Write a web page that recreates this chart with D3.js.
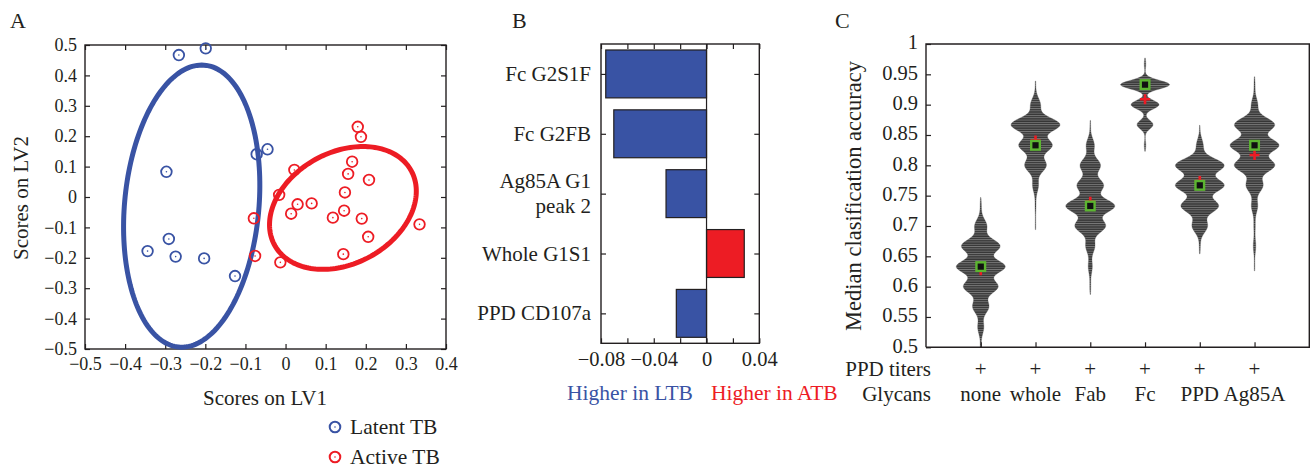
<!DOCTYPE html>
<html>
<head>
<meta charset="utf-8">
<script src="https://cdn.jsdelivr.net/npm/d3@7"></script>
<style>
  body { margin: 0; background: #fff; }
  svg text { font-family: "Liberation Serif", "DejaVu Serif", serif; fill: #231f20; }
</style>
</head>
<body>
<svg width="1313" height="469"></svg>
<script>
// ---- data ----
// panel A: PLS-DA scores
var latentLV1 = [-0.266, -0.199, -0.297, -0.072, -0.045, -0.344, -0.291, -0.274, -0.203, -0.126];
var latentLV2 = [0.467, 0.489, 0.083, 0.141, 0.157, -0.178, -0.138, -0.196, -0.202, -0.260];
var activeLV1 = [0.180, 0.188, 0.166, 0.156, 0.208, 0.022, 0.148, -0.016, 0.030, 0.065,
                 0.014, 0.146, 0.118, 0.190, 0.334, -0.079, 0.206, 0.144, -0.076, -0.013];
var activeLV2 = [0.231, 0.198, 0.116, 0.076, 0.056, 0.089, 0.015, 0.007, -0.024, -0.021,
                 -0.055, -0.045, -0.068, -0.071, -0.090, -0.070, -0.131, -0.188, -0.194, -0.215];
// confidence ellipses: centre x, centre y, x radius, x shear, y radius (data units)
var latentEllipse = [-0.234, -0.030, 0.168, 0.025, 0.464];
var activeEllipse = [0.143, -0.036, 0.176, 0.050, 0.202];

// panel B: LV1 loadings
var features = ["Fc G2S1F", "Fc G2FB", "Ag85A G1|peak 2", "Whole G1S1", "PPD CD107a"];
var loadings = [-0.0764, -0.0703, -0.0307, 0.0286, -0.0229];

// panel C: median classification accuracy distributions
var groups = ["none", "whole", "Fab", "Fc", "PPD", "Ag85A"];
var accLevels = [0.5, 0.533, 0.567, 0.6, 0.633, 0.667, 0.7, 0.733, 0.767, 0.8, 0.833, 0.867, 0.9, 0.933, 0.967];
var countsNone  = [0.5, 3, 8, 17, 24, 19, 6, 0.6, 0, 0, 0, 0, 0, 0, 0];
var countsWhole = [0, 0, 0, 0, 0, 0, 0.3, 0.5, 3, 11, 17, 25, 5, 0.3, 0];
var countsFab   = [0, 0, 0, 0.5, 2, 4.5, 15, 24, 13, 10, 4, 0.3, 0, 0, 0];
var countsFc    = [0, 0, 0, 0, 0, 0, 0, 0, 0, 0, 0.8, 8, 14, 24.5, 0.8];
var countsPPD   = [0, 0, 0, 0, 0, 0.5, 7, 17, 22, 22, 3, 0.2, 0, 0, 0];
var countsAg85A = [0, 0, 0, 0, 0.3, 1.2, 0.7, 3, 8, 19, 23, 19, 3, 0.5, 0];
var bandwidths = [0.011, 0.011, 0.011, 0.007, 0.011, 0.011];
var medians = [0.633, 0.833, 0.733, 0.933, 0.767, 0.833];
var means   = [0.627, 0.841, 0.740, 0.909, 0.774, 0.817];

var blue = "#3953a4", red = "#ed1c24", green = "#5cb531", ink = "#231f20";

var svg = d3.select("svg");
var fmt = function(d) { return d3.format(".2~f")(d); };

function styleAxis(g, size) {
  g.attr("font-family", null).attr("font-size", size);
  g.selectAll(".tick line").attr("stroke", ink).attr("stroke-width", 1.2);
  g.select(".domain").remove();
}

// ================= A =================
var xA = d3.scaleLinear([-0.5, 0.4], [85, 446]);
var yA = d3.scaleLinear([-0.5, 0.5], [349, 45]);

svg.append("text").attr("x", 10).attr("y", 28).attr("font-size", 22).text("A");

svg.append("g").attr("transform", "translate(0,349)")
    .call(d3.axisBottom(xA).ticks(10).tickSize(-5).tickPadding(8).tickFormat(fmt))
    .call(styleAxis, 18);
svg.append("g").attr("transform", "translate(0,45)")
    .call(d3.axisTop(xA).ticks(10).tickSize(-5).tickFormat(""))
    .call(styleAxis, 18);
svg.append("g").attr("transform", "translate(85,0)")
    .call(d3.axisLeft(yA).ticks(10).tickSize(-5).tickPadding(8).tickFormat(fmt))
    .call(styleAxis, 18);
svg.append("g").attr("transform", "translate(446,0)")
    .call(d3.axisRight(yA).ticks(10).tickSize(-5).tickFormat(""))
    .call(styleAxis, 18);
svg.append("rect").attr("x", 85).attr("y", 45).attr("width", 361).attr("height", 304)
    .attr("fill", "none").attr("stroke", ink).attr("stroke-width", 1.4);

svg.append("text").attr("x", 265).attr("y", 405).attr("text-anchor", "middle")
    .attr("font-size", 21).text("Scores on LV1");
svg.append("text").attr("transform", "translate(28,198) rotate(-90)").attr("text-anchor", "middle")
    .attr("font-size", 21).text("Scores on LV2");

function ellipsePath(e) {
  var pts = d3.range(0, 361, 2).map(function(deg) {
    var t = deg * Math.PI / 180;
    return [xA(e[0] + e[2] * Math.cos(t) + e[3] * Math.sin(t)), yA(e[1] + e[4] * Math.sin(t))];
  });
  return d3.line()(pts) + "Z";
}
svg.append("path").attr("d", ellipsePath(latentEllipse)).attr("fill", "none")
    .attr("stroke", blue).attr("stroke-width", 5);
svg.append("path").attr("d", ellipsePath(activeEllipse)).attr("fill", "none")
    .attr("stroke", red).attr("stroke-width", 5);

function drawPoints(xs, ys, color) {
  var g = svg.append("g").selectAll("g").data(xs).join("g")
      .attr("transform", function(d, i) { return "translate(" + xA(d) + "," + yA(ys[i]) + ")"; });
  g.append("circle").attr("r", 5.3).attr("fill", "none").attr("stroke", color).attr("stroke-width", 1.8);
  g.append("circle").attr("r", 0.8).attr("fill", color);
}
drawPoints(latentLV1, latentLV2, blue);
drawPoints(activeLV1, activeLV2, red);

// legend
[["Latent TB", blue], ["Active TB", red]].forEach(function(l, i) {
  var y = 427 + i * 30;
  svg.append("circle").attr("cx", 335).attr("cy", y).attr("r", 5.3).attr("fill", "none")
      .attr("stroke", l[1]).attr("stroke-width", 2);
  svg.append("circle").attr("cx", 335).attr("cy", y).attr("r", 0.8).attr("fill", l[1]);
  svg.append("text").attr("x", 350).attr("y", y + 7).attr("font-size", 21.5).text(l[0]);
});

// ================= B =================
var xB = d3.scaleLinear([-0.08, 0.04], [601, 759.3]);
var yB = d3.scaleBand(features, [44, 343.3]).paddingInner(0.2).paddingOuter(0.1);

svg.append("text").attr("x", 512).attr("y", 28).attr("font-size", 22).text("B");

svg.selectAll(".bar").data(features).join("rect").attr("class", "bar")
    .attr("x", function(d, i) { return xB(Math.min(0, loadings[i])); })
    .attr("width", function(d, i) { return Math.abs(xB(loadings[i]) - xB(0)); })
    .attr("y", function(d) { return yB(d); })
    .attr("height", yB.bandwidth())
    .attr("fill", function(d, i) { return loadings[i] < 0 ? blue : red; })
    .attr("stroke", ink).attr("stroke-width", 1.2);

var bFmt = function(d) { return Math.round(d * 100) % 4 === 0 ? fmt(d) : ""; };
svg.append("g").attr("transform", "translate(0,343.3)")
    .call(d3.axisBottom(xB).ticks(6).tickSize(-5).tickPadding(8).tickFormat(bFmt))
    .call(styleAxis, 20.5);
svg.append("g").attr("transform", "translate(0,44)")
    .call(d3.axisTop(xB).ticks(6).tickSize(-5).tickFormat(""))
    .call(styleAxis, 20);
var yBc = d3.scalePoint(features, [44, 343.3]).padding(0.5);
svg.append("g").attr("transform", "translate(601,0)")
    .call(d3.axisLeft(yBc).tickSize(-5).tickFormat(""))
    .call(styleAxis, 20);
svg.append("g").attr("transform", "translate(759.3,0)")
    .call(d3.axisRight(yBc).tickSize(-5).tickFormat(""))
    .call(styleAxis, 20);
svg.append("line").attr("x1", xB(0)).attr("x2", xB(0)).attr("y1", 44).attr("y2", 343.3)
    .attr("stroke", ink).attr("stroke-width", 1.2);
svg.append("rect").attr("x", 601).attr("y", 44).attr("width", 158.3).attr("height", 299.3)
    .attr("fill", "none").attr("stroke", ink).attr("stroke-width", 1.4);

features.forEach(function(f) {
  var lines = f.split("|");
  var cy = yBc(f);
  lines.forEach(function(t, j) {
    svg.append("text").attr("x", 591).attr("text-anchor", "end").attr("font-size", 21)
        .attr("y", cy + 7 + (j - (lines.length - 1) / 2) * 25).text(t);
  });
});

svg.append("text").attr("x", 630).attr("y", 400).attr("text-anchor", "middle")
    .attr("font-size", 21.5).style("fill", blue).text("Higher in LTB");
svg.append("text").attr("x", 711).attr("y", 400)
    .attr("font-size", 21.5).style("fill", red).text("Higher in ATB");

// ================= C =================
var xC = d3.scalePoint(groups, [926, 1309.3]).padding(1);
var yC = d3.scaleLinear([0.5, 1], [347.3, 44]);

svg.append("text").attr("x", 835).attr("y", 28).attr("font-size", 22).text("C");

var defs = svg.append("defs");
var pat = defs.append("pattern").attr("id", "stripes").attr("patternUnits", "userSpaceOnUse")
    .attr("width", 8).attr("height", 2.3);
pat.append("rect").attr("width", 8).attr("height", 2.3).attr("fill", "#363636");
pat.append("rect").attr("y", 0).attr("width", 8).attr("height", 0.9).attr("fill", "#787878");

var allCounts = [countsNone, countsWhole, countsFab, countsFc, countsPPD, countsAg85A];
var grid = d3.range(480, 1001).map(function(k) { return k / 1000; });

groups.forEach(function(gname, gi) {
  var h = bandwidths[gi], c = allCounts[gi];
  var dens = grid.map(function(v) {
    var s = 0;
    accLevels.forEach(function(a, j) { s += c[j] * Math.exp(-0.5 * Math.pow((v - a) / h, 2)); });
    return [v, s];
  });
  var w = d3.scaleLinear([0, d3.max(dens, function(d) { return d[1]; })], [0, 24.5]);
  dens = dens.filter(function(d) { return w(d[1]) > 0.25 && d[0] >= 0.5; });
  var area = d3.area()
      .y(function(d) { return yC(d[0]); })
      .x0(function(d) { return xC(gname) - w(d[1]); })
      .x1(function(d) { return xC(gname) + w(d[1]); });
  svg.append("path").attr("d", area(dens)).attr("fill", "url(#stripes)")
      .attr("stroke", "#555").attr("stroke-width", 0.3);
});

// means (red +) then medians (green squares)
var mk = svg.append("g");
means.forEach(function(m, i) {
  var x = xC(groups[i]), y = yC(m);
  mk.append("path").attr("d", "M" + (x - 5) + "," + y + "H" + (x + 5) + "M" + x + "," + (y - 5) + "V" + (y + 5))
      .attr("stroke", red).attr("stroke-width", 2.6);
});
medians.forEach(function(m, i) {
  mk.append("rect").attr("x", xC(groups[i]) - 4.3).attr("y", yC(m) - 4.3)
      .attr("width", 8.6).attr("height", 8.6).attr("fill", "#111")
      .attr("stroke", green).attr("stroke-width", 2.4);
});

svg.append("g").attr("transform", "translate(926,0)")
    .call(d3.axisLeft(yC).ticks(10).tickSize(-5).tickPadding(8).tickFormat(fmt))
    .call(styleAxis, 20.5)
    .call(function(g) { g.selectAll(".tick text").attr("dy", "0.24em"); });
svg.append("g").attr("transform", "translate(0,347.3)")
    .call(d3.axisBottom(xC).tickSize(-5).tickFormat(""))
    .call(styleAxis, 21);
svg.append("path").attr("d", "M926,347.3V44H1309.3V347.3H926")
    .attr("fill", "none").attr("stroke", ink).attr("stroke-width", 1.4);

svg.append("text").attr("transform", "translate(861,196) rotate(-90)").attr("text-anchor", "middle")
    .attr("font-size", 22.5).text("Median clasification accuracy");

svg.append("text").attr("x", 931).attr("y", 376).attr("text-anchor", "end").attr("font-size", 21).text("PPD titers");
svg.append("text").attr("x", 931).attr("y", 401).attr("text-anchor", "end").attr("font-size", 21).text("Glycans");
groups.forEach(function(gname) {
  svg.append("text").attr("x", xC(gname)).attr("y", 376).attr("text-anchor", "middle").attr("font-size", 21).text("+");
  svg.append("text").attr("x", xC(gname)).attr("y", 401).attr("text-anchor", "middle").attr("font-size", 21).text(gname);
});
</script>
</body>
</html>
